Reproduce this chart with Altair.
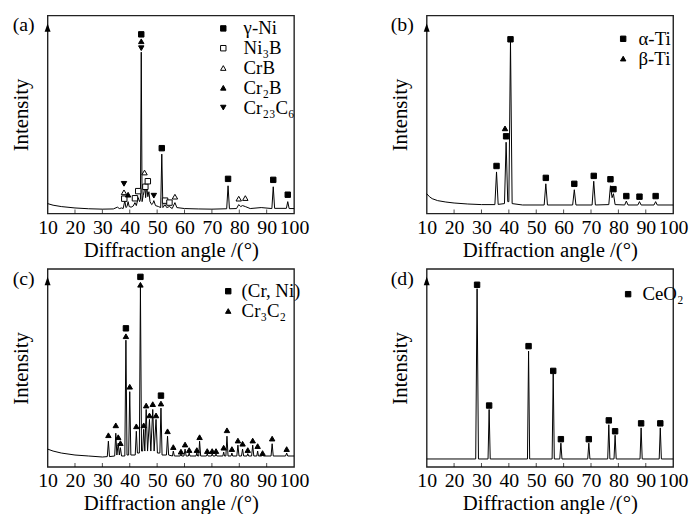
import altair as alt
import pandas as pd

FONT = "Liberation Serif"
x_ticks = [10, 20, 30, 40, 50, 60, 70, 80, 90, 100]

# ---------------- panel (a) ----------------
a_spectrum = [(10, 5), (12, 4.2), (15, 3.5), (20, 2.8), (25, 2.4), (30, 2.2), (34, 2.3), (35.5, 3.2),
              (36.2, 2.5), (37, 2.8), (37.6, 2.5), (38.2, 6.5), (38.6, 3), (39.0, 3.5), (39.4, 6),
              (39.8, 3.5), (40.5, 3.2), (41.3, 3.8), (41.9, 5.5), (42.4, 4), (43.1, 8), (43.6, 6),
              (43.9, 7), (44.2, 81.5), (44.5, 6), (44.9, 9), (45.2, 11), (45.5, 15), (45.8, 8),
              (46.2, 14), (46.6, 8.5), (47.0, 11), (47.4, 6), (48.0, 4.5), (48.4, 5), (48.8, 6.5),
              (49.4, 4), (50.5, 3.5), (51.3, 3), (51.7, 30), (52.1, 3), (52.9, 4.5), (53.5, 3),
              (54.5, 3.5), (55.5, 2.5), (56.5, 5.5), (57.2, 3), (60, 2.5), (65, 2.3), (70, 2.2),
              (75.4, 2.4), (75.9, 14), (76.4, 2.4), (79, 2.5), (79.8, 4.5), (80.5, 3.5), (81.2, 4),
              (82.2, 3.5), (84, 2.5), (88, 3), (91.9, 2.5), (92.4, 13.5), (92.9, 2.6), (97.2, 2.6),
              (97.7, 6), (98.2, 2.5), (100, 2.5)]
a_phases = ["γ-Ni", "Ni₃B", "CrB", "Cr₂B", "Cr₂₃C₆"]
a_shapes = ["square", "square", "triangle-up", "triangle-up", "triangle-down"]
a_fills = ["black", "white", "white", "black", "black"]
a_markers = [(44.2, 90.5, "γ-Ni"), (51.7, 33, "γ-Ni"), (75.9, 17.5, "γ-Ni"), (92.4, 17, "γ-Ni"),
             (97.7, 9.5, "γ-Ni"),
             (38.0, 7.5, "Ni₃B"), (41.9, 7.7, "Ni₃B"), (43.1, 11.3, "Ni₃B"), (45.7, 13.5, "Ni₃B"),
             (46.6, 16.3, "Ni₃B"), (52.9, 6.5, "Ni₃B"), (54.5, 5.5, "Ni₃B"),
             (37.9, 10.7, "CrB"), (45.4, 20.7, "CrB"), (56.5, 8.5, "CrB"), (79.8, 7.5, "CrB"),
             (82.2, 7.8, "CrB"),
             (44.2, 87, "Cr₂B"), (39.4, 9.5, "Cr₂B"),
             (44.2, 83.5, "Cr₂₃C₆"), (37.9, 15, "Cr₂₃C₆"), (48.8, 9, "Cr₂₃C₆")]

# ---------------- panel (b) ----------------
b_spectrum = [(10, 10), (11, 8.5), (12, 7.5), (14, 6.5), (17, 5.8), (20, 5.3), (25, 4.8), (30, 4.5),
              (34.9, 4.5), (35.5, 21), (36.1, 4.6), (38.4, 5), (39.0, 36), (39.6, 6), (40.0, 6),
              (40.6, 87), (41.2, 5), (45, 4.3), (52.9, 4.3), (53.5, 15), (54.1, 4.3), (63.3, 4.3),
              (63.9, 12), (64.5, 4.3), (70.4, 4.3), (71.0, 16.3), (71.6, 4.3), (76.5, 4.5), (77.1, 14),
              (77.7, 8), (78.2, 10), (78.8, 4.5), (82.3, 4.3), (82.9, 6.3), (83.5, 4.3), (87.1, 4.3),
              (87.7, 6), (88.3, 4.3), (93.0, 4.3), (93.6, 6), (94.2, 4.3), (100, 4.3)]
b_phases = ["α-Ti", "β-Ti"]
b_shapes = ["square", "triangle-up"]
b_fills = ["black", "black"]
b_markers = [(35.5, 24, "α-Ti"), (39.0, 39, "α-Ti"), (40.6, 88, "α-Ti"), (53.5, 18, "α-Ti"),
             (63.9, 15, "α-Ti"), (71.0, 19, "α-Ti"), (77.1, 17.3, "α-Ti"), (78.2, 12.3, "α-Ti"),
             (82.9, 8.8, "α-Ti"), (87.7, 8.5, "α-Ti"), (93.6, 8.8, "α-Ti"),
             (38.6, 43, "β-Ti")]

# ---------------- panel (c) ----------------
c_spectrum = [(10, 9), (12, 8), (15, 7), (20, 6), (25, 5.5), (30, 5), (31.8, 5.2), (32.2, 13), (32.6, 5.2),
              (34.5, 5.5), (34.9, 17), (35.3, 6), (35.8, 12), (36.2, 6), (36.6, 9.7), (37.0, 5.5),
              (38.2, 5.5), (38.6, 64), (39.0, 6), (39.6, 6), (40.0, 38), (40.4, 6), (42.0, 6),
              (42.4, 18), (42.8, 7), (43.5, 7), (43.9, 91), (44.3, 8), (44.7, 8), (45.1, 19), (45.5, 8),
              (46.0, 29), (46.5, 8), (47.2, 24), (47.7, 8), (48.4, 29), (48.9, 8), (49.6, 24), (50.1, 7),
              (51.0, 7), (51.4, 29.7), (51.8, 6), (53.4, 6), (53.8, 15.5), (54.2, 6), (55.6, 5.5),
              (55.9, 8), (56.3, 5.5), (58.4, 5.5), (58.7, 6.5), (59.0, 5.5), (59.8, 5.5), (60.2, 9),
              (60.6, 5.5), (61.4, 5.5), (61.7, 7), (62.0, 5.5), (64.2, 5.5), (64.5, 7), (64.8, 5.5),
              (65.2, 5.5), (65.5, 13), (65.9, 5.5), (68.0, 5.5), (68.3, 6.5), (68.6, 5.5), (69.8, 5.5),
              (70.1, 6.5), (70.4, 5.5), (71.2, 5.5), (71.5, 6.5), (71.8, 5.5), (74.0, 5.5), (74.3, 7.5),
              (74.6, 5.5), (75.1, 5.5), (75.5, 15.5), (75.9, 5.5), (77.0, 5.5), (77.3, 7), (77.6, 5.5),
              (79.1, 5.5), (79.5, 11), (79.9, 5.5), (80.8, 5.5), (81.2, 9), (81.6, 5.5), (82.8, 5.5),
              (83.1, 6.7), (83.4, 5.5), (84.5, 5.5), (84.9, 11), (85.3, 5.5), (86.4, 5.5), (86.7, 8),
              (87.0, 5.5), (88.2, 5.5), (88.5, 6.5), (88.8, 5.5), (91.6, 5.5), (92.0, 11.7), (92.4, 5.5),
              (96.9, 5.5), (97.3, 7), (97.7, 5.5), (100, 5.5)]
c_phases = ["(Cr, Ni)", "Cr₃C₂"]
c_shapes = ["square", "triangle-up"]
c_fills = ["black", "black"]
c_markers = [(38.6, 70, "(Cr, Ni)"), (43.9, 96, "(Cr, Ni)"), (51.4, 36, "(Cr, Ni)")] + [
    (x, y, "Cr₃C₂") for x, y in [
        (32.2, 16), (34.9, 21), (35.8, 15), (36.6, 12), (38.6, 66), (40.0, 40.5), (42.4, 20.5),
        (43.9, 92), (45.1, 21), (46.0, 31), (47.2, 26), (48.4, 31.7), (49.6, 26), (51.4, 32),
        (53.8, 18), (55.9, 10), (58.7, 7.7), (60.2, 11.3), (61.7, 8.5), (64.5, 8.5), (65.5, 15),
        (68.3, 8), (70.1, 8), (71.5, 8), (74.3, 9.7), (75.5, 18.5), (77.3, 9), (79.5, 13.3),
        (81.2, 11.7), (83.1, 8.5), (84.9, 13.3), (86.7, 10.5), (88.5, 7), (92.0, 14.3), (97.3, 9)]]

# ---------------- panel (d) ----------------
d_spectrum = [(10, 4), (27.9, 4), (28.4, 90), (28.9, 4), (32.4, 4), (32.8, 29), (33.2, 4), (46.8, 4),
              (47.2, 58.5), (47.6, 4), (55.8, 4), (56.2, 47), (56.6, 4), (58.6, 4), (59.0, 12), (59.4, 4),
              (68.8, 4), (69.2, 12), (69.6, 4), (76.1, 4), (76.5, 21.3), (76.9, 4), (78.4, 4), (78.8, 16),
              (79.2, 4), (87.9, 4), (88.3, 19.7), (88.7, 4), (94.9, 4), (95.3, 19.7), (95.7, 4), (100, 4)]
d_phases = ["CeO₂"]
d_shapes = ["square"]
d_fills = ["black"]
d_markers = [(28.4, 92, "CeO₂"), (32.8, 31, "CeO₂"), (47.2, 61, "CeO₂"), (56.2, 48.5, "CeO₂"),
             (59.0, 14, "CeO₂"), (69.2, 14, "CeO₂"), (76.5, 23.5, "CeO₂"), (78.8, 18, "CeO₂"),
             (88.3, 22, "CeO₂"), (95.3, 22, "CeO₂")]

W, H = 249, 200


def panel(tag, spectrum, markers, phases, shapes, fills, lx, ly, loff):
    line_df = pd.DataFrame(spectrum, columns=["angle", "intensity"])
    mk_df = pd.DataFrame(markers, columns=["angle", "intensity", "phase"])
    tick_df = pd.DataFrame({"angle": x_ticks[1:-1]})
    xs = alt.Scale(domain=[10, 100], nice=False, zero=False)
    ys = alt.Scale(domain=[0, 100], nice=False, zero=False)
    xax = alt.Axis(values=x_ticks, title="Diffraction angle /(°)", ticks=False, domain=False,
                   grid=False, labelFlush=False, labelOverlap=False, labelPadding=4, titlePadding=2)
    yax = alt.Axis(labels=False, ticks=False, domain=False, grid=False, title="Intensity",
                   titlePadding=16)
    X = alt.X("angle:Q", scale=xs, axis=xax)
    Y = alt.Y("intensity:Q", scale=ys, axis=yax)
    line = alt.Chart(line_df).mark_line(color="black", strokeWidth=1).encode(x=X, y=Y)
    ticks = alt.Chart(tick_df).mark_tick(orient="vertical", size=4, thickness=1, color="black").encode(
        x=X, y=alt.value(H - 2),
    )
    leg = alt.Legend(orient="none", legendX=lx, legendY=ly, title=None, labelOffset=loff,
                     symbolStrokeWidth=1, symbolSize=30,
                     rowPadding=0, padding=0, labelFontSize=19, labelFont=FONT,
                     labelColor="black", labelLimit=200)
    pts = alt.Chart(mk_df).mark_point(size=30, strokeWidth=1, opacity=1).encode(
        x=X, y=Y,
        shape=alt.Shape("phase:N", scale=alt.Scale(domain=phases, range=shapes), legend=leg),
        fill=alt.Fill("phase:N", scale=alt.Scale(domain=phases, range=fills), legend=leg),
        stroke=alt.Stroke("phase:N", scale=alt.Scale(domain=phases, range=["black"] * len(phases)),
                          legend=leg),
    )
    one = pd.DataFrame({"k": [0]})
    arrow = alt.Chart(one).mark_point(shape="M0,-1L0.6,0.7L-0.6,0.7Z", filled=True, color="black",
                                      size=100, opacity=1).encode(x=alt.value(0), y=alt.value(13))
    label = alt.Chart(one).mark_text(text=tag, align="right", baseline="middle", font=FONT,
                                     fontSize=20, color="black").encode(x=alt.value(-13), y=alt.value(10))
    return alt.layer(line, ticks, pts, arrow, label).properties(width=W, height=H).resolve_scale(
        shape="independent", fill="independent", stroke="independent")


pa = panel("(a)", a_spectrum, a_markers, a_phases, a_shapes, a_fills, 168, 3.5, 11)
pb = panel("(b)", b_spectrum, b_markers, b_phases, b_shapes, b_fills, 189, 14, 6)
pc = panel("(c)", c_spectrum, c_markers, c_phases, c_shapes, c_fills, 173, 13, 4)
pd_ = panel("(d)", d_spectrum, d_markers, d_phases, d_shapes, d_fills, 194, 16, 5)

RES = dict(shape="independent", fill="independent", stroke="independent")
row1 = alt.hconcat(pa, pb, spacing=80).resolve_scale(**RES)
row2 = alt.hconcat(pc, pd_, spacing=80).resolve_scale(**RES)
chart = alt.vconcat(row1, row2, spacing=7).resolve_scale(**RES).properties(
    padding={"left": 2, "top": 4, "right": 0, "bottom": 0}, background="white"
).configure_view(stroke="#222", strokeWidth=1.4).configure_axis(
    labelFont=FONT, labelFontSize=20, labelColor="black",
    titleFont=FONT, titleFontSize=21, titleFontWeight="normal", titleColor="black",
)

chart.save("out.html", embed_options={"renderer": "svg", "actions": False})
